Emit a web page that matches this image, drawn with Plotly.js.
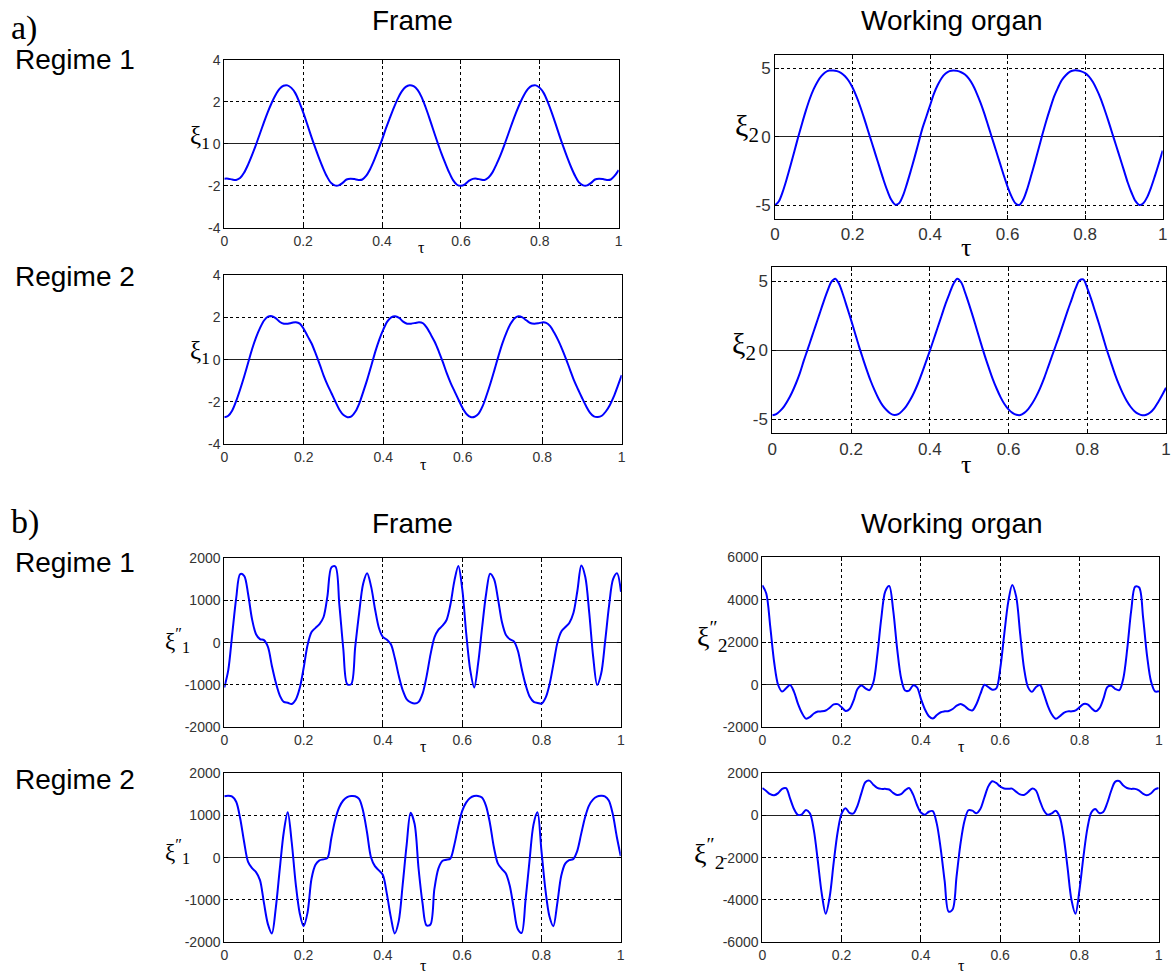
<!DOCTYPE html>
<html>
<head>
<meta charset="utf-8">
<script src="https://cdn.plot.ly/plotly-3.0.1.min.js"></script>
<style>
html,body{margin:0;padding:0;background:#fff;}
#chart{width:1171px;height:973px;}
</style>
</head>
<body>
<div id="chart"></div>
<script>
// ---------- DATA ----------
const tau = [0,0.01,0.02,0.03,0.04,0.05,0.06,0.07,0.08,0.09,
0.10,0.11,0.12,0.13,0.14,0.15,0.16,0.17,0.18,0.19,
0.20,0.21,0.22,0.23,0.24,0.25,0.26,0.27,0.28,0.29,
0.30,0.31,0.32,0.33,0.34,0.35,0.36,0.37,0.38,0.39,
0.40,0.41,0.42,0.43,0.44,0.45,0.46,0.47,0.48,0.49,
0.50,0.51,0.52,0.53,0.54,0.55,0.56,0.57,0.58,0.59,
0.60,0.61,0.62,0.63,0.64,0.65,0.66,0.67,0.68,0.69,
0.70,0.71,0.72,0.73,0.74,0.75,0.76,0.77,0.78,0.79,
0.80,0.81,0.82,0.83,0.84,0.85,0.86,0.87,0.88,0.89,
0.90,0.91,0.92,0.93,0.94,0.95,0.96,0.97,0.98,0.99,1.00];

// a) Regime 1, Frame: xi1
const xi1_reg1 = [-1.66,-1.66,-1.70,-1.72,-1.63,-1.38,-1.0,-0.55,-0.06,0.47,
1.0,1.5,1.95,2.33,2.62,2.77,2.79,2.67,2.42,2.0,
1.5,0.95,0.38,-0.16,-0.67,-1.14,-1.55,-1.85,-1.98,-1.98,
-1.86,-1.7,-1.66,-1.68,-1.72,-1.70,-1.52,-1.2,-0.78,-0.3,
0.2,0.75,1.25,1.73,2.16,2.5,2.72,2.8,2.75,2.57,
2.24,1.77,1.23,0.66,0.1,-0.43,-0.91,-1.36,-1.73,-1.95,
-2.0,-1.93,-1.77,-1.67,-1.66,-1.7,-1.72,-1.6,-1.36,-0.98,
-0.55,-0.06,0.47,1.0,1.5,1.95,2.33,2.62,2.77,2.79,
2.67,2.42,2.0,1.5,0.95,0.38,-0.16,-0.67,-1.14,-1.55,
-1.85,-1.98,-1.98,-1.86,-1.7,-1.66,-1.68,-1.72,-1.70,-1.52,-1.25];

// a) Regime 1, Working organ: xi2
const xi2_reg1 = [-5.0,-4.7,-4.0,-3.1,-2.1,-1.05,0.0,1.0,1.95,2.8,
3.5,4.05,4.45,4.72,4.84,4.85,4.8,4.68,4.45,4.1,
3.6,2.95,2.2,1.35,0.45,-0.45,-1.35,-2.25,-3.15,-3.95,
-4.6,-4.95,-4.85,-4.3,-3.45,-2.5,-1.5,-0.45,0.6,1.45,
2.3,3.15,3.8,4.3,4.62,4.8,4.85,4.82,4.72,4.55,
4.25,3.8,3.2,2.5,1.7,0.8,-0.1,-1.0,-1.9,-2.8,
-3.65,-4.35,-4.85,-4.98,-4.6,-3.85,-2.9,-1.9,-0.85,0.2,
1.2,2.1,2.95,3.6,4.15,4.5,4.75,4.85,4.85,4.78,
4.65,4.4,4.0,3.45,2.8,2.0,1.15,0.25,-0.65,-1.55,
-2.45,-3.35,-4.1,-4.7,-4.98,-4.85,-4.4,-3.7,-2.85,-1.95,-1.0];

// a) Regime 2, Frame: xi1
const xi1_reg2 = [-2.72,-2.65,-2.4,-1.95,-1.4,-0.8,-0.15,0.5,1.05,1.5,
1.85,2.03,2.05,1.95,1.78,1.7,1.7,1.74,1.77,1.7,
1.45,1.1,0.75,0.28,-0.22,-0.75,-1.2,-1.6,-2.0,-2.38,
-2.62,-2.72,-2.68,-2.45,-2.05,-1.5,-0.92,-0.28,0.38,0.95,
1.42,1.8,2.0,2.05,1.97,1.8,1.7,1.7,1.73,1.77,
1.72,1.5,1.17,0.82,0.37,-0.12,-0.65,-1.12,-1.52,-1.92,
-2.3,-2.58,-2.71,-2.7,-2.55,-2.2,-1.68,-1.1,-0.47,0.18,
0.78,1.28,1.68,1.95,2.05,2.0,1.86,1.73,1.7,1.72,
1.76,1.74,1.58,1.28,0.92,0.5,0.03,-0.48,-0.98,-1.4,
-1.8,-2.18,-2.5,-2.68,-2.71,-2.65,-2.45,-2.15,-1.75,-1.25,-0.73];

// a) Regime 2, Working organ: xi2
const xi2_reg2 = [-4.7,-4.62,-4.38,-4.05,-3.6,-3.05,-2.4,-1.65,-0.75,0.08,
0.93,1.78,2.63,3.48,4.27,4.95,5.18,4.78,4.0,3.1,
2.2,1.25,0.3,-0.58,-1.43,-2.22,-2.9,-3.5,-3.98,-4.32,
-4.57,-4.68,-4.62,-4.38,-4.05,-3.6,-3.05,-2.4,-1.65,-0.85,
-0.05,0.8,1.65,2.5,3.35,4.1,4.8,5.18,4.9,4.15,
3.3,2.4,1.45,0.5,-0.42,-1.27,-2.08,-2.78,-3.4,-3.9,
-4.27,-4.52,-4.66,-4.68,-4.52,-4.25,-3.85,-3.35,-2.75,-2.05,
-1.25,-0.45,0.35,1.15,2.0,2.85,3.65,4.45,5.05,5.12,
4.5,3.7,2.8,1.9,0.95,0.0,-0.85,-1.7,-2.45,-3.1,
-3.65,-4.08,-4.4,-4.6,-4.7,-4.66,-4.5,-4.2,-3.75,-3.25,-2.71];

// b) Regime 1, Frame: xi1''
const acc1_reg1 = [-1060,-650,200,1050,1620,1580,1150,550,200,85,
60,-100,-550,-950,-1250,-1400,-1420,-1450,-1350,-1080,
-600,-50,250,350,440,600,1100,1780,1800,900,
-150,-980,-980,-100,710,1390,1640,1330,790,340,
130,70,-40,-370,-790,-1130,-1340,-1410,-1440,-1400,
-1200,-790,-270,130,310,400,530,900,1460,1810,
1250,200,-650,-1060,-480,370,1150,1630,1500,1030,
480,180,80,30,-190,-630,-1010,-1280,-1400,-1425,
-1440,-1300,-980,-490,10,270,370,470,700,1220,
1820,1550,700,-350,-1000,-730,30,880,1500,1640,1200];

// b) Regime 1, Working organ: xi2''
const acc2_reg1 = [4680,4300,2750,1050,-10,-320,-160,-10,-330,-900,
-1330,-1590,-1520,-1350,-1260,-1250,-1210,-1080,-920,-910,
-1060,-1230,-1140,-750,-200,-30,-170,-250,120,1420,
3140,4400,4650,3500,1680,300,-270,-270,-30,-120,
-670,-1160,-1480,-1590,-1420,-1290,-1250,-1230,-1140,-980,
-900,-1000,-1160,-1200,-900,-420,0,-110,-230,-170,
800,2400,3900,4700,4150,2400,750,-120,-330,-100,
-10,-450,-1000,-1400,-1600,-1480,-1320,-1250,-1250,-1200,
-1050,-900,-920,-1100,-1250,-1100,-650,-100,-50,-200,
-250,300,1700,3500,4620,4580,3150,1350,150,-310,-300];

// b) Regime 2, Frame: xi1''
const acc1_reg2 = [1450,1460,1440,1320,930,370,-100,-250,-340,-530,
-1070,-1570,-1790,-1180,-260,600,1070,370,-600,-1300,
-1620,-1300,-500,-170,-65,-40,-10,460,900,1190,
1350,1430,1455,1450,1390,1110,600,10,-200,-300,
-410,-850,-1400,-1790,-1500,-640,300,1060,800,-250,
-1070,-1600,-1580,-740,-260,-80,-50,-25,290,730,
1100,1300,1410,1455,1458,1420,1230,820,250,-135,
-265,-370,-660,-1180,-1680,-1780,-1000,-70,780,1070,
170,-750,-1380,-1620,-1080,-430,-140,-60,-35,150,
550,950,1230,1370,1440,1460,1450,1350,1030,500,40];

// b) Regime 2, Working organ: xi2''
const acc2_reg2 = [1290,1150,1000,950,1050,1250,1280,800,300,20,
50,250,100,-700,-2150,-3700,-4650,-3850,-2250,-800,
80,340,120,90,450,1050,1560,1640,1450,1300,
1250,1250,1220,1060,960,1000,1180,1290,1000,500,
130,30,170,200,-380,-1570,-3100,-4550,-4450,-2900,
-1340,-270,240,220,100,300,830,1360,1610,1530,
1360,1270,1250,1260,1120,990,960,1090,1260,1180,
700,240,25,90,220,-60,-990,-2460,-4000,-4650,
-3550,-1970,-630,130,300,110,160,570,1150,1580,
1620,1420,1290,1250,1250,1180,1030,950,1030,1220,1290];

// tick values and labels
const tauTicks = [0,0.2,0.4,0.6,0.8,1];
const tauTickText = ["0","0.2","0.4","0.6","0.8","1"];
const xiFrameTicks = [-4,-2,0,2,4];
const xiFrameText = ["-4","-2","0","2","4"];
const xiOrganTicks = [-5,0,5];
const xiOrganText = ["-5","0","5"];
const accFrameTicks = [-2000,-1000,0,1000,2000];
const accFrameText = ["-2000","-1000","0","1000","2000"];
const acc2Reg1Ticks = [-2000,0,2000,4000,6000];
const acc2Reg1Text = ["-2000","0","2000","4000","6000"];
const acc2Reg2Ticks = [-6000,-4000,-2000,0,2000];
const acc2Reg2Text = ["-6000","-4000","-2000","0","2000"];

// ---------- LAYOUT ----------
const W = 1171, H = 973;
const px = x => x / W;
const py = y => 1 - y / H;

const panels = [
  {y: xi1_reg1, box:[224.3,618.7,60,227.7], range:[-4,4], tv:xiFrameTicks, tt:xiFrameText, fs:14},
  {y: xi2_reg1, box:[775,1162.7,54.7,219], range:[-6,6], tv:xiOrganTicks, tt:xiOrganText, fs:17},
  {y: xi1_reg2, box:[224.3,621.7,275,444.3], range:[-4,4], tv:xiFrameTicks, tt:xiFrameText, fs:14},
  {y: xi2_reg2, box:[772.3,1166,267.3,433.3], range:[-6,6], tv:xiOrganTicks, tt:xiOrganText, fs:17},
  {y: acc1_reg1, box:[224.3,621,558,727.3], range:[-2000,2000], tv:accFrameTicks, tt:accFrameText, fs:14},
  {y: acc2_reg1, box:[762.3,1159,557.3,727.3], range:[-2000,6000], tv:acc2Reg1Ticks, tt:acc2Reg1Text, fs:14},
  {y: acc1_reg2, box:[224.3,620.7,773,942.3], range:[-2000,2000], tv:accFrameTicks, tt:accFrameText, fs:14},
  {y: acc2_reg2, box:[762.3,1158.7,773,942.3], range:[-6000,2000], tv:acc2Reg2Ticks, tt:acc2Reg2Text, fs:14}
];

const traces = [];
const layout = {
  width: W, height: H,
  margin: {l:0, r:0, t:0, b:0},
  paper_bgcolor: '#ffffff',
  plot_bgcolor: '#ffffff',
  showlegend: false,
  annotations: []
};

panels.forEach((p, i) => {
  const n = i + 1;
  const xa = n === 1 ? 'x' : 'x' + n;
  const ya = n === 1 ? 'y' : 'y' + n;
  traces.push({
    x: tau, y: p.y, xaxis: xa, yaxis: ya,
    type: 'scatter', mode: 'lines',
    line: {color: '#0000ff', width: 2, shape: 'spline', smoothing: 0.9},
    hoverinfo: 'skip'
  });
  const common = {
    showline: true, linecolor: '#000', linewidth: 1, mirror: 'ticks',
    ticks: 'inside', ticklen: 4, tickcolor: '#000', tickwidth: 1,
    showgrid: true, gridcolor: '#000', gridwidth: 1, griddash: '3px,3px',
    tickfont: {family: 'Liberation Sans, Arial, sans-serif', size: p.fs, color: '#333'},
    fixedrange: true
  };
  layout['xaxis' + (n === 1 ? '' : n)] = Object.assign({}, common, {
    domain: [px(p.box[0]), px(p.box[1])],
    anchor: ya, range: [0, 1],
    tickmode: 'array', tickvals: tauTicks, ticktext: tauTickText,
    zeroline: false
  });
  layout['yaxis' + (n === 1 ? '' : n)] = Object.assign({}, common, {
    domain: [py(p.box[3]), py(p.box[2])],
    anchor: xa, range: p.range,
    tickmode: 'array', tickvals: p.tv, ticktext: p.tt,
    zeroline: true, zerolinecolor: '#222', zerolinewidth: 1
  });
});

function ann(text, x, y, size, family, xanchor) {
  layout.annotations.push({
    text: text, x: px(x), y: py(y), xref: 'paper', yref: 'paper',
    xanchor: xanchor || 'center', yanchor: 'middle', showarrow: false,
    font: {family: family, size: size, color: '#000'}
  });
}
const SANS = 'Liberation Sans, Arial, sans-serif';
const SERIF = 'Liberation Serif, Times New Roman, serif';

// headings
ann('a)', 9, 28, 34, SERIF, 'left');
ann('Frame', 412, 20, 28, SANS);
ann('Working organ', 952, 20, 28, SANS);
ann('Regime 1', 13, 59, 28, SANS, 'left');
ann('Regime 2', 13, 276, 28, SANS, 'left');
ann('b)', 9, 522, 34, SERIF, 'left');
ann('Frame', 412, 523, 28, SANS);
ann('Working organ', 952, 523, 28, SANS);
ann('Regime 1', 13, 562, 28, SANS, 'left');
ann('Regime 2', 13, 779, 28, SANS, 'left');

// axis labels
ann('ξ<sub>1</sub>', 200, 137, 25, SERIF);
ann('ξ<sub>2</sub>', 747, 128, 30, SERIF);
ann('ξ<sub>1</sub>', 200, 353, 25, SERIF);
ann('ξ<sub>2</sub>', 744, 346, 30, SERIF);
ann('ξ<sup>″</sup><sub>1</sub>', 177, 640, 23, SERIF);
ann('ξ<sup>″</sup><sub>2</sub>', 712, 636, 28, SERIF);
ann('ξ<sup>″</sup><sub>1</sub>', 177, 851, 23, SERIF);
ann('ξ<sup>″</sup><sub>2</sub>', 709, 853, 28, SERIF);

ann('τ', 421, 248, 16, SERIF);
ann('τ', 966, 247, 26, SERIF);
ann('τ', 423, 464, 16, SERIF);
ann('τ', 966, 464, 26, SERIF);
ann('τ', 423, 746, 16, SERIF);
ann('τ', 961, 746, 16, SERIF);
ann('τ', 423, 965, 16, SERIF);
ann('τ', 961, 965, 16, SERIF);

Plotly.newPlot('chart', traces, layout, {staticPlot: true, displayModeBar: false});
</script>
</body>
</html>
